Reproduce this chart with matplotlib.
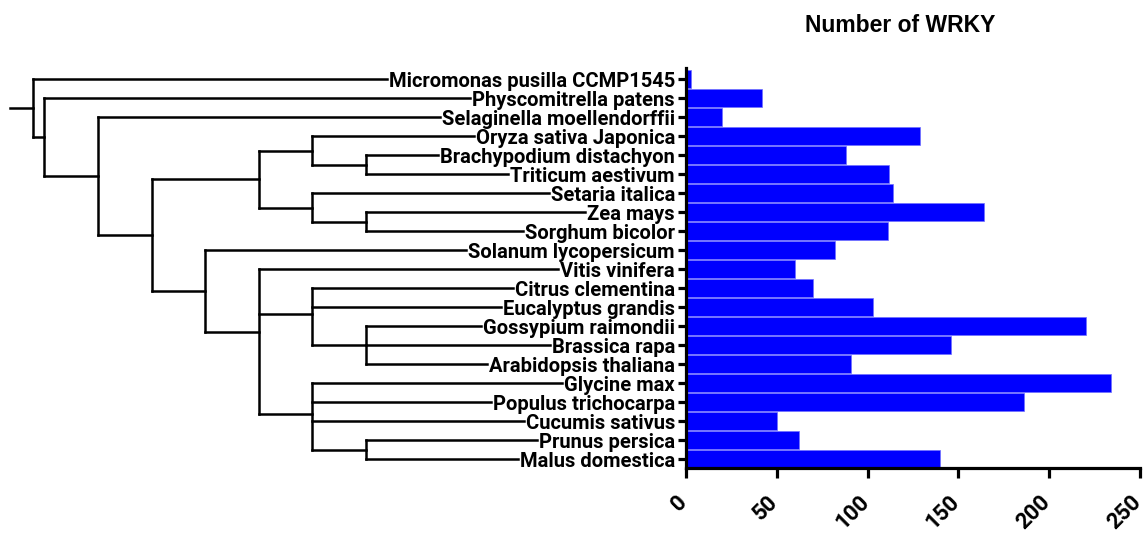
import matplotlib
matplotlib.use("Agg")
import matplotlib.pyplot as plt
from matplotlib.transforms import ScaledTranslation, blended_transform_factory

species = [
    "Micromonas pusilla CCMP1545",
    "Physcomitrella patens",
    "Selaginella moellendorffii",
    "Oryza sativa Japonica",
    "Brachypodium distachyon",
    "Triticum aestivum",
    "Setaria italica",
    "Zea mays",
    "Sorghum bicolor",
    "Solanum lycopersicum",
    "Vitis vinifera",
    "Citrus clementina",
    "Eucalyptus grandis",
    "Gossypium raimondii",
    "Brassica rapa",
    "Arabidopsis thaliana",
    "Glycine max",
    "Populus trichocarpa",
    "Cucumis sativus",
    "Prunus persica",
    "Malus domestica",
]
wrky_count = [3, 42, 20, 129, 88, 112, 114, 164, 111, 82, 60,
              70, 103, 220, 146, 91, 234, 186, 50, 62, 140]
x_ticks = [0, 50, 100, 150, 200, 250]

# cladogram: node depth and children (ints = leaf index into species)
root_start = -0.64
node_level = {"A": -0.22, "B": 0, "C": 1, "D": 2, "E": 4, "F": 5, "G": 6,
              "H": 5, "I": 6, "J": 3, "K": 4, "L": 5, "M": 6, "N": 5, "O": 6}
node_children = {
    "A": [0, "B"],
    "B": [1, "C"],
    "C": [2, "D"],
    "D": ["E", "J"],
    "E": ["F", "H"],
    "F": [3, "G"],
    "G": [4, 5],
    "H": [6, "I"],
    "I": [7, 8],
    "J": [9, "K"],
    "K": [10, "L", "N"],
    "L": [11, 12, "M"],
    "M": [13, 14, 15],
    "N": [16, 17, 18, "O"],
    "O": [19, 20],
}

plt.rcParams["font.family"] = ["Liberation Sans", "DejaVu Sans"]
plt.rcParams["font.weight"] = "bold"
label_font = ["Roboto", "Liberation Sans", "DejaVu Sans"]

W, H = 1145, 535
fig = plt.figure(figsize=(W / 100, H / 100), dpi=100)

x0, x1 = 686 / W, 1140 / W
ytop, ybot = 1 - 67.7 / H, 1 - 468 / H
ax = fig.add_axes([x0, ybot, x1 - x0, ytop - ybot])
ax_tree = fig.add_axes([0, ybot, x0, ytop - ybot])

n = len(species)
ypos = list(range(n))
ax.barh(ypos, wrky_count, height=0.93, color="#0000ff",
        edgecolor="#7070ff", linewidth=0.5)
ax.set_ylim(n - 1 + 0.46, -0.61)
ax.set_xlim(0, 250)
ax.set_yticks(ypos)
ax.set_yticklabels(species, fontsize=14.5, fontweight="bold", family=label_font)
ax.set_xticks(x_ticks)
ax.set_xticklabels([])
for s in ["top", "right"]:
    ax.spines[s].set_visible(False)
for s in ["left", "bottom"]:
    ax.spines[s].set_linewidth(2.3)
ax.tick_params(axis="y", length=6, width=2.3, pad=2)
ax.tick_params(axis="x", length=7, width=2.3)
ax.set_facecolor("none")

# rotated x tick labels placed below the axis
lab_tr = blended_transform_factory(ax.transData, ax.transAxes) + \
    ScaledTranslation(1.5 / 72, -25 / 72, fig.dpi_scale_trans)
for t in x_ticks:
    ax.text(t, 0, str(t), transform=lab_tr, rotation=45, rotation_mode="anchor",
            ha="right", va="baseline", fontsize=16, fontweight="bold",
            family=label_font, clip_on=False)

fig.text(900 / W, 1 - 25 / H, "Number of WRKY", ha="center", va="center",
         fontsize=16.5, fontweight="bold")

# tree axes share y with the bars
ax_tree.set_ylim(n - 1 + 0.46, -0.61)
ax_tree.set_xlim(-0.828, 11.97)
ax_tree.axis("off")

fig.canvas.draw()
renderer = fig.canvas.get_renderer()
inv = ax_tree.transData.inverted()
leaf_end = []
for lab in ax.get_yticklabels():
    bb = lab.get_window_extent(renderer)
    leaf_end.append(inv.transform((bb.x0 - 2, 0))[0])

lw = 1.8
kw = dict(color="black", lw=lw, solid_capstyle="projecting")


def draw(node):
    x = node_level[node]
    ys = []
    for c in node_children[node]:
        if isinstance(c, int):
            ax_tree.plot([x, leaf_end[c]], [c, c], **kw)
            ys.append(c)
        else:
            cy = draw(c)
            ax_tree.plot([x, node_level[c]], [cy, cy], **kw)
            ys.append(cy)
    ax_tree.plot([x, x], [min(ys), max(ys)], **kw)
    return sum(ys) / len(ys)


root_y = draw("A")
ax_tree.plot([root_start, node_level["A"]], [root_y, root_y], **kw)

fig.savefig("out.png", dpi=100)
